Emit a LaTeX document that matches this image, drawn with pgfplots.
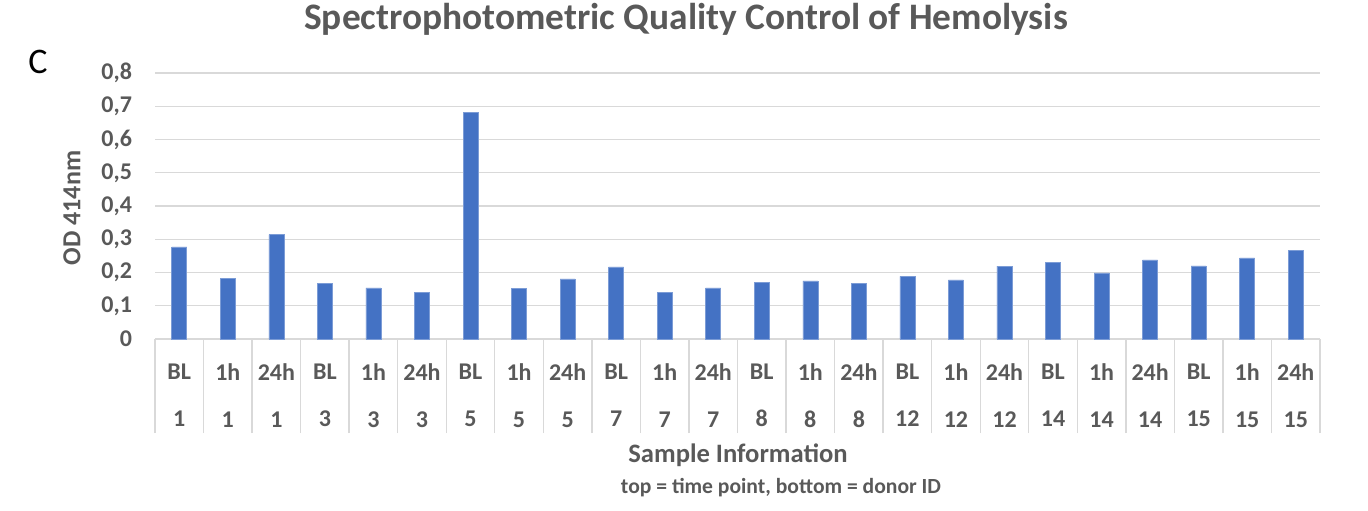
\documentclass[border=0pt]{standalone}
\usepackage{pgfplots}
\pgfplotsset{compat=1.18}
\usepackage{fontspec}
\setmainfont{Carlito}
\definecolor{txt}{HTML}{595959}
\definecolor{gridc}{HTML}{D9D9D9}
\definecolor{bar}{HTML}{4472C4}

% 1 px of the reference = 0.5pt
\newcommand{\px}[2]{({#1*0.5pt},{(510-#2)*0.5pt})}

\begin{document}
\begin{tikzpicture}
\path[use as bounding box] (0,0) rectangle (684pt,255pt);

\begin{axis}[
    at={(77.5pt,85.5pt)}, anchor=south west,
    scale only axis,
    width=582.5pt, height=133pt,
    ybar, bar width=7.5pt,
    xmin=-0.5, xmax=23.5,
    ymin=0, ymax=0.8,
    ytick={0,0.1,...,0.8},
    ymajorgrids=true,
    grid style={gridc, line width=0.7pt},
    axis line style={draw=none},
    major tick length=0pt,
    xtick={0,...,23},
    xtick pos=lower,
    minor xtick={-0.5,0.5,...,23.5},
    minor tick length=47pt,
    tick align=outside,
    minor tick style={gridc, line width=0.7pt},
    xticklabels={{BL\\[9pt]1},{1h\\[9pt]1},{24h\\[9pt]1},
                 {BL\\[9pt]3},{1h\\[9pt]3},{24h\\[9pt]3},
                 {BL\\[9pt]5},{1h\\[9pt]5},{24h\\[9pt]5},
                 {BL\\[9pt]7},{1h\\[9pt]7},{24h\\[9pt]7},
                 {BL\\[9pt]8},{1h\\[9pt]8},{24h\\[9pt]8},
                 {BL\\[9pt]12},{1h\\[9pt]12},{24h\\[9pt]12},
                 {BL\\[9pt]14},{1h\\[9pt]14},{24h\\[9pt]14},
                 {BL\\[9pt]15},{1h\\[9pt]15},{24h\\[9pt]15}},
    xticklabel style={align=center, font=\fontsize{12}{14.5}\selectfont\bfseries, text=txt, yshift=-9pt},
    yticklabel style={font=\fontsize{12}{14}\selectfont\bfseries, text=txt, xshift=-8pt},
    /pgf/number format/assume math mode=true,
    /pgf/number format/use comma,
    /pgf/number format/fixed,
    /pgf/number format/precision=1,
    clip=false,
]
\addplot[fill=bar, draw=bar!70!white, line width=0.3pt] coordinates {
    (0,0.277) (1,0.183) (2,0.314)
    (3,0.168) (4,0.154) (5,0.140)
    (6,0.681) (7,0.153) (8,0.181)
    (9,0.217) (10,0.139) (11,0.154)
    (12,0.170) (13,0.175) (14,0.167)
    (15,0.188) (16,0.178) (17,0.219)
    (18,0.231) (19,0.199) (20,0.238)
    (21,0.220) (22,0.244) (23,0.266)
};
\end{axis}

\node[font=\fontsize{18.7}{22}\selectfont\bfseries, text=txt] at \px{686}{19} {Spectrophotometric Quality Control of Hemolysis};
\node[font=\fontsize{18}{21}\selectfont] at \px{38}{62} {C};
\node[font=\fontsize{13}{15}\selectfont\bfseries, text=txt, rotate=90] at \px{72}{208} {OD 414nm};
\node[font=\fontsize{13.3}{15}\selectfont\bfseries, text=txt] at \px{738}{455} {Sample Information};
\node[font=\fontsize{10.8}{13}\selectfont\bfseries, text=txt] at \px{781}{488} {top = time point, bottom = donor ID};
\end{tikzpicture}
\end{document}
